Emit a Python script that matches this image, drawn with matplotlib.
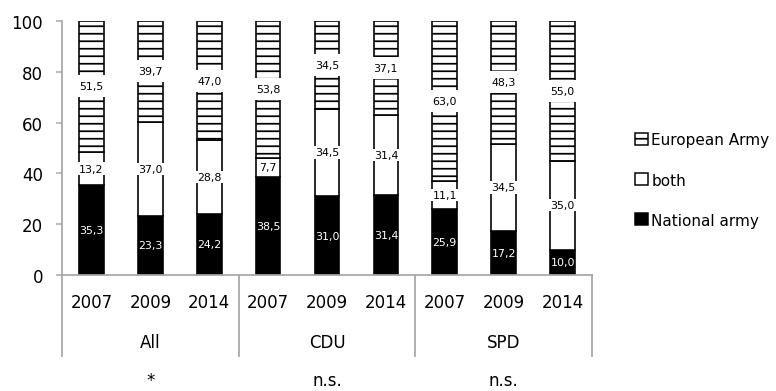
import numpy as np
import matplotlib
matplotlib.use('Agg')
import matplotlib.pyplot as plt
from matplotlib.patches import Patch
import matplotlib.transforms as mtransforms

# survey shares (%) per party group and year
groups = ['All', 'CDU', 'SPD']
years = ['2007', '2009', '2014']
signif = ['*', 'n.s.', 'n.s.']
national = [35.3, 23.3, 24.2, 38.5, 31.0, 31.4, 25.9, 17.2, 10.0]
both = [13.2, 37.0, 28.8, 7.7, 34.5, 31.4, 11.1, 34.5, 35.0]
european = [51.5, 39.7, 47.0, 53.8, 34.5, 37.1, 63.0, 48.3, 55.0]

DPI = 90
plt.rcParams['font.family'] = 'DejaVu Sans'
plt.rcParams['hatch.linewidth'] = 1.4
plt.rcParams['hatch.color'] = 'black'

fig = plt.figure(figsize=(776 / DPI, 392 / DPI), dpi=DPI)
ax = fig.add_axes([62 / 776, 1 - 276 / 392, 530 / 776, 254 / 392])

x = np.arange(len(national))
w = 0.42
nat = np.array(national)
bo = np.array(both)
eu = np.array(european)

ax.bar(x, nat, w, color='black', edgecolor='black', linewidth=1.3, zorder=2)
ax.bar(x, bo, w, bottom=nat, color='white', edgecolor='black', linewidth=1.3, zorder=2)
ax.bar(x, eu, w, bottom=nat + bo, color='white', edgecolor='black', linewidth=1.3,
       hatch='--', zorder=2)

fs_lab = 8.8
for i in range(len(x)):
    ax.text(x[i], nat[i] / 2, ('%.1f' % nat[i]).replace('.', ','), ha='center', va='center',
            color='white', fontsize=fs_lab, zorder=4)
    ax.text(x[i], nat[i] + bo[i] / 2, ('%.1f' % bo[i]).replace('.', ','), ha='center',
            va='center', color='black', fontsize=fs_lab, zorder=4,
            bbox=dict(boxstyle='square,pad=0.1', fc='white', ec='none'))
    ax.text(x[i], nat[i] + bo[i] + eu[i] / 2, ('%.1f' % eu[i]).replace('.', ','), ha='center',
            va='center', color='black', fontsize=fs_lab, zorder=4,
            bbox=dict(boxstyle='square,pad=0.55', fc='white', ec='none'))

ax.set_xlim(-0.5, len(x) - 0.5)
ax.set_ylim(0, 100)
ax.set_yticks([0, 20, 40, 60, 80, 100])
ax.tick_params(axis='y', labelsize=13.3, length=5, color='#a6a6a6', width=1.2, pad=10)
ax.set_xticks([])
for s in ['top', 'right']:
    ax.spines[s].set_visible(False)
for s in ['left', 'bottom']:
    ax.spines[s].set_color('#a6a6a6')
    ax.spines[s].set_linewidth(1.4)

# multi-level category axis below the bars
trans = mtransforms.blended_transform_factory(ax.transData, ax.transAxes)
for i in range(len(x)):
    ax.text(x[i], -0.106, years[i % 3], ha='center', va='center', fontsize=13.3,
            transform=trans)
for g in range(len(groups)):
    ax.text(3 * g + 1, -0.264, groups[g], ha='center', va='center', fontsize=13.3,
            transform=trans)
    ax.text(3 * g + 1, -0.413, signif[g], ha='center', va='center', fontsize=13.3,
            transform=trans)
for b in [-0.5, 2.5, 5.5, 8.5]:
    ax.plot([b, b], [0, -0.319], color='#a6a6a6', lw=1.4, transform=trans, clip_on=False)

handles = [Patch(facecolor='white', edgecolor='black', hatch='--', lw=1.2, label='European Army'),
           Patch(facecolor='white', edgecolor='black', lw=1.2, label='both'),
           Patch(facecolor='black', edgecolor='black', lw=1.2, label='National army')]
fig.legend(handles=handles, loc='center left', bbox_to_anchor=(627 / 776, 1 - 181 / 392),
           frameon=False, fontsize=12.2, handlelength=0.85, handleheight=0.85,
           handletextpad=0.25, labelspacing=1.65, borderpad=0)

fig.savefig('out.png', dpi=DPI)
